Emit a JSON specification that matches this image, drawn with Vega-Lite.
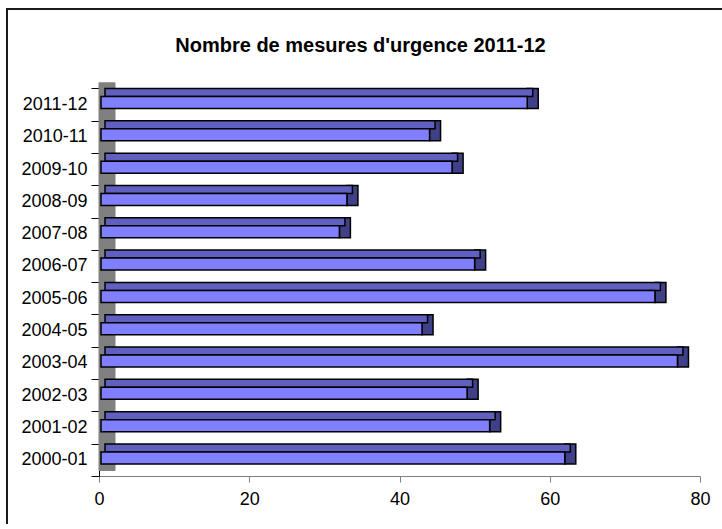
{
  "$schema": "https://vega.github.io/schema/vega-lite/v6.json",
  "width": 715,
  "height": 520,
  "autosize": {"type": "none"},
  "padding": {"left": 7, "top": 9, "right": 0, "bottom": 0},
  "background": "white",
  "title": {
    "text": "Nombre de mesures d'urgence 2011-12",
    "font": "Liberation Sans",
    "fontSize": 20,
    "fontWeight": "bold",
    "color": "#000000",
    "anchor": "middle",
    "frame": "group",
    "baseline": "alphabetic",
    "offset": -72,
    "dx": -4
  },
  "data": {
    "values": [
      {"period": "2000-01", "value": 62},
      {"period": "2001-02", "value": 52},
      {"period": "2002-03", "value": 49},
      {"period": "2003-04", "value": 77},
      {"period": "2004-05", "value": 43},
      {"period": "2005-06", "value": 74},
      {"period": "2006-07", "value": 50},
      {"period": "2007-08", "value": 32},
      {"period": "2008-09", "value": 33},
      {"period": "2009-10", "value": 47},
      {"period": "2010-11", "value": 44},
      {"period": "2011-12", "value": 57}
    ]
  },
  "encoding": {
    "y": {
      "field": "period",
      "type": "nominal",
      "sort": "descending",
      "scale": {"range": [79.3, 467], "paddingInner": 0, "paddingOuter": 0},
      "axis": {
        "title": null,
        "offset": -92,
        "tickSize": 8,
        "labelPadding": 4,
        "domainColor": "#000000",
        "tickColor": "#000000",
        "tickBand": "extent",
        "labelFont": "Liberation Sans",
        "labelFontSize": 18,
        "labelColor": "#000000",
        "grid": false
      }
    }
  },
  "layer": [
    {
      "mark": {"type": "bar", "color": "#808080", "stroke": "#808080", "strokeWidth": 1, "height": {"band": 1}, "yOffset": -5.5, "x2Offset": 16},
      "encoding": {
        "x": {"datum": 0, "type": "quantitative"},
        "x2": {"datum": 0}
      }
    },
    {
      "mark": {"type": "bar", "color": "#404088", "stroke": "#000000", "strokeWidth": 1.5, "height": 20, "yOffset": -5.9, "x2Offset": 11},
      "encoding": {
        "x": {"field": "value", "type": "quantitative"},
        "x2": {"field": "value"}
      }
    },
    {
      "mark": {"type": "bar", "color": "#6060c0", "stroke": "#000000", "strokeWidth": 1.5, "height": 8, "yOffset": -11.9, "xOffset": 5.5, "x2Offset": 6},
      "encoding": {
        "x": {"field": "value", "type": "quantitative"},
        "x2": {"datum": 0}
      }
    },
    {
      "mark": {"type": "bar", "color": "#8080ff", "stroke": "#000000", "strokeWidth": 1.5, "height": 12, "yOffset": -1.9, "x2Offset": 2},
      "encoding": {
        "x": {
          "field": "value",
          "type": "quantitative",
          "scale": {"domain": [0, 80], "range": [92, 693], "nice": false},
          "axis": {
            "title": null,
            "offset": -53,
            "values": [0, 20, 40, 60, 80],
            "tickSize": 6,
            "labelPadding": 8,
            "labelFlush": false,
            "labelOverlap": false,
            "domainColor": "#808080",
            "tickColor": "#808080",
            "labelFont": "Liberation Sans",
            "labelFontSize": 18,
            "labelColor": "#000000",
            "grid": false
          }
        },
        "x2": {"datum": 0}
      }
    }
  ],
  "config": {
    "view": {"stroke": "#1a1a1a", "strokeWidth": 2, "strokeDash": [715, 1240, 520]}
  }
}
